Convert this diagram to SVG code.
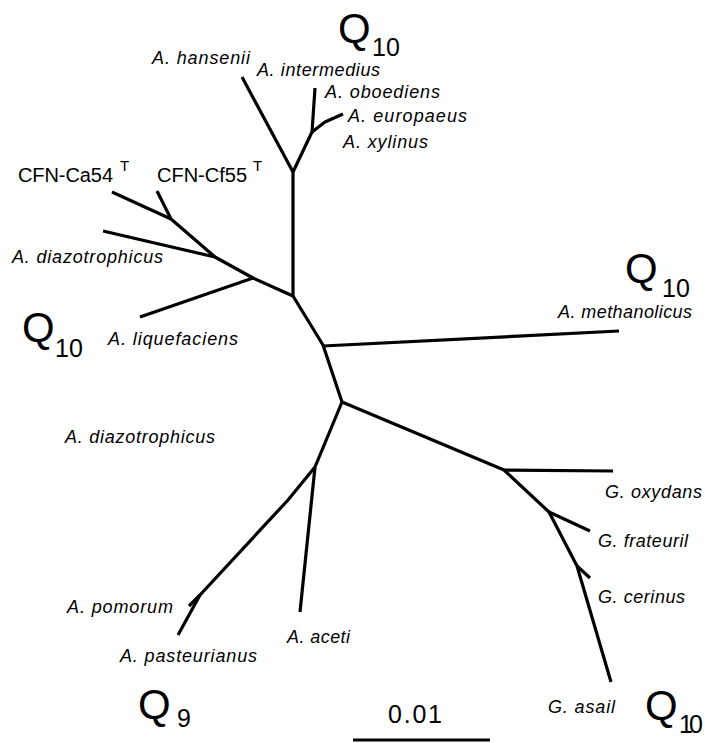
<svg xmlns="http://www.w3.org/2000/svg" width="705" height="743" viewBox="0 0 705 743">
<style>
.br{fill:none;stroke:#000;stroke-width:3.2;stroke-linecap:butt;stroke-linejoin:round}
.lb{font-family:"Liberation Sans",Arial,sans-serif;font-style:italic;font-size:18px;fill:#000}
.cf{font-family:"Liberation Sans",Arial,sans-serif;font-size:20px;fill:#000}
.sup{font-family:"Liberation Sans",Arial,sans-serif;font-size:15px;fill:#000}
.q{font-family:"Liberation Sans",Arial,sans-serif;font-size:42px;fill:#000}
.qs{font-family:"Liberation Sans",Arial,sans-serif;font-size:25px;fill:#000}
</style>
<rect width="705" height="743" fill="#fff"/>
<g id="connectors">
<polyline class="br" points="293,296 323,345 342,402"/>
<polyline class="br" points="293,296 293,172"/>
<polyline class="br" points="293,172 242,77"/>
<polyline class="br" points="293,172 312,132 315,88"/>
<polyline class="br" points="312,132 325,122 343,114"/>
<polyline class="br" points="293,296 253,278 215,257 171,219 112,192"/>
<polyline class="br" points="171,219 157,191"/>
<polyline class="br" points="215,257 103,231"/>
<polyline class="br" points="253,278 140,317"/>
<polyline class="br" points="323,346 619,331"/>
<polyline class="br" points="342,402 504,470"/>
<polyline class="br" points="504,470 613,471"/>
<polyline class="br" points="504,470 549,512 577,566 611,682"/>
<polyline class="br" points="549,512 590,531"/>
<polyline class="br" points="577,566 590,578"/>
<polyline class="br" points="342,402 315,467"/>
<polyline class="br" points="315,467 288,500 200,595 178,635"/>
<polyline class="br" points="200,595 189,606"/>
<polyline class="br" points="315,467 300,612"/>
<line x1="353" y1="740" x2="490" y2="740" stroke="#000" stroke-width="3"/>
</g>
<g id="n-hansenii"><text class="lb" x="152" y="64" textLength="98">A. hansenii</text></g>
<g id="n-intermedius"><text class="lb" x="257" y="76" textLength="123">A. intermedius</text></g>
<g id="n-oboediens"><text class="lb" x="325" y="98" textLength="115">A. oboediens</text></g>
<g id="n-europaeus"><text class="lb" x="348" y="122" textLength="119">A. europaeus</text></g>
<g id="n-xylinus"><text class="lb" x="343" y="148" textLength="85">A. xylinus</text></g>
<g id="n-ca54"><text class="cf" x="18" y="182" textLength="95">CFN-Ca54</text><text class="sup" x="120" y="171">T</text></g>
<g id="n-cf55"><text class="cf" x="157" y="182" textLength="90">CFN-Cf55</text><text class="sup" x="253" y="171">T</text></g>
<g id="n-diazo1"><text class="lb" x="12" y="263" textLength="151">A. diazotrophicus</text></g>
<g id="n-liquefaciens"><text class="lb" x="108" y="345" textLength="130">A. liquefaciens</text></g>
<g id="n-diazo2"><text class="lb" x="65" y="443" textLength="150">A. diazotrophicus</text></g>
<g id="n-methanolicus"><text class="lb" x="558" y="318" textLength="134">A. methanolicus</text></g>
<g id="n-oxydans"><text class="lb" x="605" y="498" textLength="97">G. oxydans</text></g>
<g id="n-frateuril"><text class="lb" x="598" y="547" textLength="90">G. frateuril</text></g>
<g id="n-cerinus"><text class="lb" x="598" y="603" textLength="87">G. cerinus</text></g>
<g id="n-asail"><text class="lb" x="548" y="713" textLength="67">G. asail</text></g>
<g id="n-pomorum"><text class="lb" x="67" y="613" textLength="106">A. pomorum</text></g>
<g id="n-aceti"><text class="lb" x="287" y="643" textLength="63">A. aceti</text></g>
<g id="n-pasteurianus"><text class="lb" x="120" y="662" textLength="137">A. pasteurianus</text></g>
<g id="q-top"><text class="q" x="338" y="43">Q</text><text class="qs" x="372" y="56">10</text></g>
<g id="q-right"><text class="q" x="625" y="283">Q</text><text class="qs" x="662" y="297">10</text></g>
<g id="q-left"><text class="q" x="22" y="342">Q</text><text class="qs" x="55" y="357">10</text></g>
<g id="q-bl"><text class="q" x="138" y="719">Q</text><text class="qs" x="177" y="727">9</text></g>
<g id="q-br"><text class="q" x="645" y="720">Q</text><text class="qs" x="679" y="733" textLength="24">10</text></g>
<g id="scale"><text class="qs" x="388" y="723" textLength="54">0.01</text></g>
</svg>
